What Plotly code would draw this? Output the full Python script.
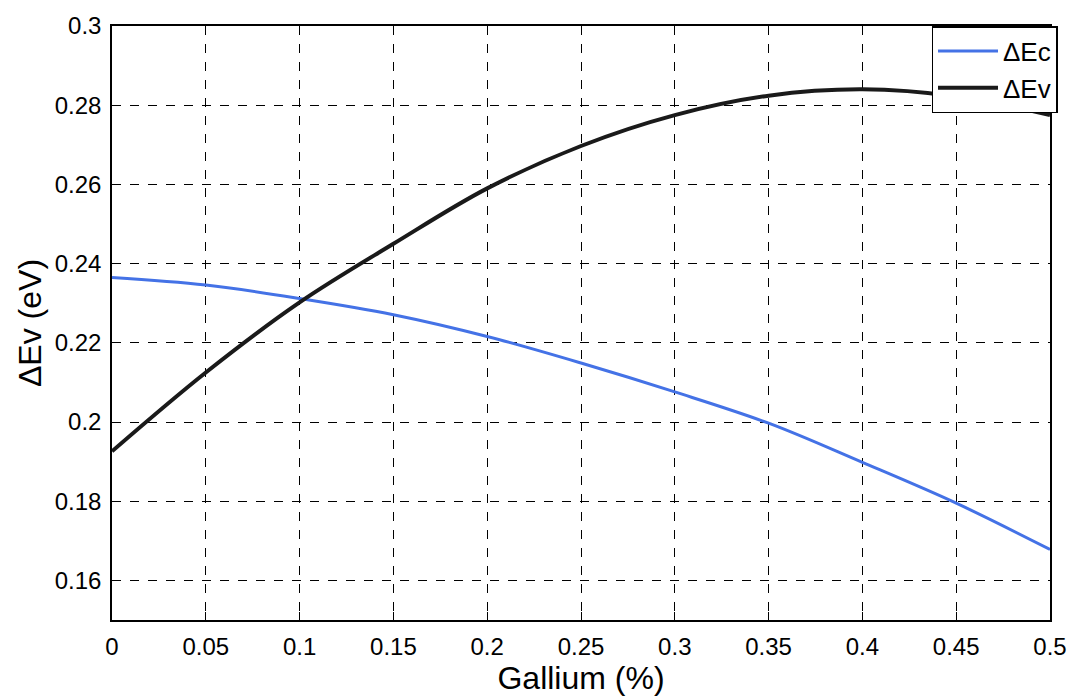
import plotly.graph_objects as go

gallium = [0.0, 0.05, 0.10, 0.15, 0.20, 0.25, 0.30, 0.35, 0.40, 0.45, 0.50]
delta_ec = [0.2365, 0.2346, 0.2312, 0.2271, 0.2216, 0.2149, 0.2076, 0.1997, 0.1898, 0.1795, 0.1678]
delta_ev = [0.1926, 0.2125, 0.2302, 0.2450, 0.2590, 0.2697, 0.2775, 0.2824, 0.2840, 0.2822, 0.2775]

x_ticks = [0, 0.05, 0.1, 0.15, 0.2, 0.25, 0.3, 0.35, 0.4, 0.45, 0.5]
x_labels = ["0", "0.05", "0.1", "0.15", "0.2", "0.25", "0.3", "0.35", "0.4", "0.45", "0.5"]
y_ticks = [0.16, 0.18, 0.20, 0.22, 0.24, 0.26, 0.28, 0.30]
y_labels = ["0.16", "0.18", "0.2", "0.22", "0.24", "0.26", "0.28", "0.3"]

FONT = "Liberation Sans, Arial"

fig = go.Figure()
fig.add_trace(go.Scatter(x=gallium, y=delta_ec, mode="lines", name="ΔEc",
                         line=dict(color="#4472e6", width=3, shape="spline")))
fig.add_trace(go.Scatter(x=gallium, y=delta_ev, mode="lines", name="ΔEv",
                         line=dict(color="#1a1a1a", width=4, shape="spline")))

axis_common = dict(showline=True, mirror=True, linecolor="black", linewidth=1.5,
                   showgrid=True, gridcolor="black", griddash="dash", gridwidth=1,
                   ticks="inside", ticklen=8, tickcolor="black", zeroline=False,
                   tickfont=dict(family=FONT, size=24, color="black"))

fig.update_layout(
    width=1079, height=697,
    margin=dict(l=112, r=24, t=26, b=77),
    paper_bgcolor="white", plot_bgcolor="white",
    xaxis=dict(range=[0, 0.5], tickvals=x_ticks, ticktext=x_labels,
               ticklabelstandoff=4,
               title=dict(text="Gallium (%)", standoff=2,
                          font=dict(family=FONT, size=32, color="black")),
               **axis_common),
    yaxis=dict(range=[0.15, 0.30], tickvals=y_ticks, ticktext=y_labels,
               ticklabelstandoff=4,
               title=dict(text="ΔEv (eV)", standoff=4,
                          font=dict(family=FONT, size=32, color="black")),
               **axis_common),
    legend=dict(x=1.008, xanchor="right", y=1.0, yanchor="top",
                bgcolor="white", bordercolor="black", borderwidth=1.5,
                font=dict(family=FONT, size=26, color="black"),
                itemwidth=60),
    showlegend=True,
)

fig.write_html("out.html")
